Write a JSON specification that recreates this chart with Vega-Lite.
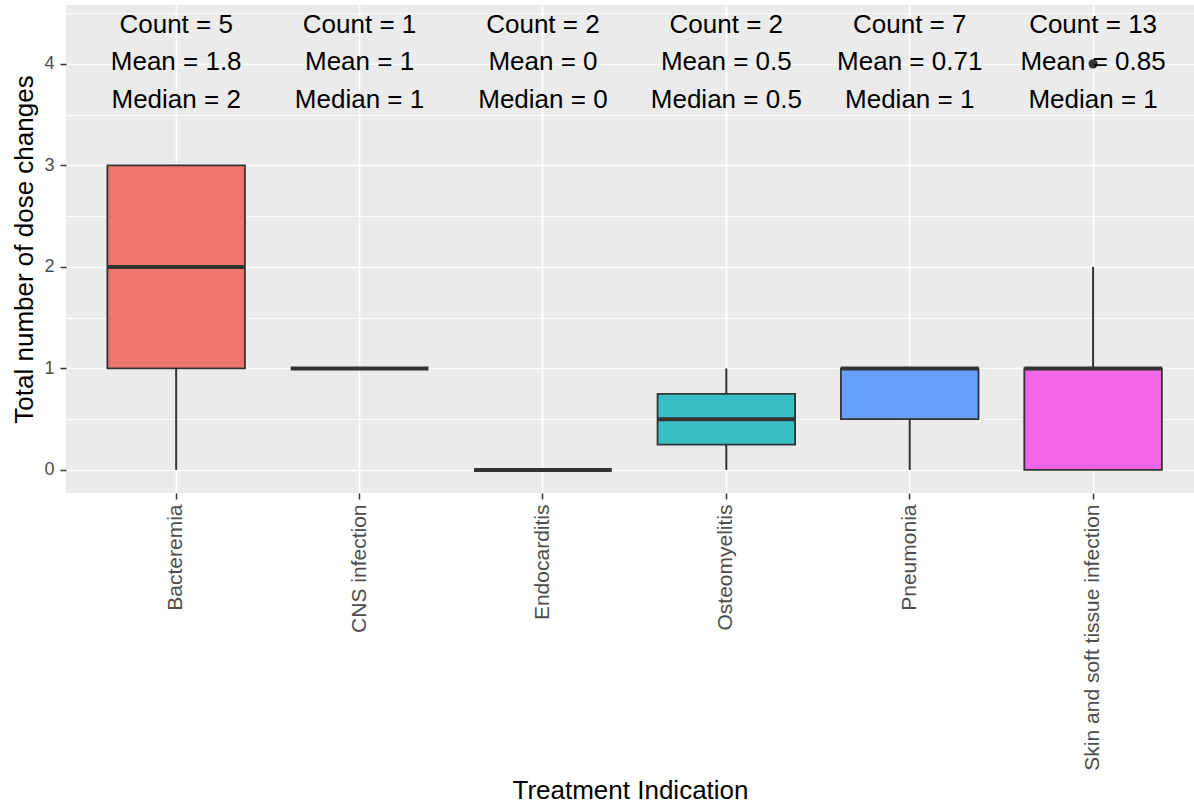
{
  "$schema": "https://vega.github.io/schema/vega-lite/v6.json",
  "width": 1128,
  "height": 488,
  "autosize": {"type": "none"},
  "padding": {"left": 66, "top": 5, "right": 0, "bottom": 310},
  "background": "white",
  "config": {
    "view": {"fill": "#EBEBEB", "stroke": null},
    "font": "Liberation Sans",
    "axis": {
      "domain": false,
      "grid": true,
      "gridColor": "white",
      "tickColor": "#333333",
      "tickWidth": 1.5,
      "tickSize": 6,
      "labelColor": "#4D4D4D",
      "labelFont": "Liberation Sans",
      "labelFontSize": 18,
      "labelPadding": 6,
      "labelLimit": 0,
      "titleFont": "Liberation Sans",
      "titleFontWeight": "normal",
      "titleColor": "black",
      "titleFontSize": 26
    },
    "axisLeft": {"labelFontSize": 18, "labelPadding": 6},
    "axisBottom": {"labelFontSize": 21, "labelPadding": 5}
  },
  "resolve": {"axis": {"y": "independent"}},
  "data": {
    "values": [
      {"indication": "Bacteremia", "lower": 0, "q1": 1, "median": 2, "q3": 3, "upper": 3, "count_text": "Count = 5", "mean_text": "Mean = 1.8", "median_text": "Median = 2"},
      {"indication": "CNS infection", "lower": 1, "q1": 1, "median": 1, "q3": 1, "upper": 1, "count_text": "Count = 1", "mean_text": "Mean = 1", "median_text": "Median = 1"},
      {"indication": "Endocarditis", "lower": 0, "q1": 0, "median": 0, "q3": 0, "upper": 0, "count_text": "Count = 2", "mean_text": "Mean = 0", "median_text": "Median = 0"},
      {"indication": "Osteomyelitis", "lower": 0, "q1": 0.25, "median": 0.5, "q3": 0.75, "upper": 1, "count_text": "Count = 2", "mean_text": "Mean = 0.5", "median_text": "Median = 0.5"},
      {"indication": "Pneumonia", "lower": 0, "q1": 0.5, "median": 1, "q3": 1, "upper": 1, "count_text": "Count = 7", "mean_text": "Mean = 0.71", "median_text": "Median = 1"},
      {"indication": "Skin and soft tissue infection", "lower": 0, "q1": 0, "median": 1, "q3": 1, "upper": 2, "count_text": "Count = 13", "mean_text": "Mean = 0.85", "median_text": "Median = 1"}
    ]
  },
  "encoding": {
    "x": {
      "field": "indication",
      "type": "nominal",
      "sort": null,
      "scale": {
        "domain": ["Bacteremia", "CNS infection", "Endocarditis", "Osteomyelitis", "Pneumonia", "Skin and soft tissue infection"],
        "paddingInner": 0.25,
        "paddingOuter": 0.2005,
        "align": 0.563
      },
      "axis": {
        "title": "Treatment Indication",
        "grid": true,
        "labelAngle": -90,
        "labelFontSize": 21,
        "labelPadding": 5,
        "gridWidth": 1.6,
        "bandPosition": 0.5,
        "titleY": 305,
        "titleBaseline": "alphabetic"
      }
    }
  },
  "layer": [
    {
      "mark": {"type": "rule", "color": "#333333", "strokeWidth": 2},
      "encoding": {
        "y": {
          "field": "q3",
          "type": "quantitative",
          "scale": {"domain": [-0.227, 4.58], "nice": false, "zero": false},
          "axis": {
            "orient": "right",
            "title": null,
            "grid": true,
            "gridWidth": 0.8,
            "values": [0.5, 1.5, 2.5, 3.5, 4.5],
            "labels": false,
            "ticks": false
          }
        },
        "y2": {"field": "upper"}
      }
    },
    {
      "mark": {"type": "rule", "color": "#333333", "strokeWidth": 2},
      "encoding": {
        "y": {
          "field": "lower",
          "type": "quantitative",
          "axis": {
            "orient": "left",
            "title": "Total number of dose changes",
            "grid": true,
            "gridWidth": 1.6,
            "values": [0, 1, 2, 3, 4],
            "format": "d",
            "labelFontSize": 18,
            "labelPadding": 6,
            "titleX": -42,
            "titleBaseline": "middle"
          }
        },
        "y2": {"field": "q1"}
      }
    },
    {
      "mark": {"type": "bar", "stroke": "#333333", "strokeWidth": 1.8},
      "encoding": {
        "y": {"field": "q1", "type": "quantitative", "axis": null},
        "y2": {"field": "q3"},
        "fill": {
          "field": "indication",
          "type": "nominal",
          "legend": null,
          "scale": {
            "domain": ["Bacteremia", "CNS infection", "Endocarditis", "Osteomyelitis", "Pneumonia", "Skin and soft tissue infection"],
            "range": ["#F0756C", "#B79F00", "#00BA38", "#38BEC3", "#66A0FF", "#F066E6"]
          }
        }
      }
    },
    {
      "mark": {"type": "bar", "fillOpacity": 0, "stroke": "#333333", "strokeWidth": 4},
      "encoding": {
        "y": {"field": "median", "type": "quantitative", "axis": null},
        "y2": {"field": "median"}
      }
    },
    {
      "data": {"values": [{"indication": "Skin and soft tissue infection", "value": 4}]},
      "mark": {"type": "circle", "color": "#333333", "opacity": 1, "size": 85},
      "encoding": {
        "y": {"field": "value", "type": "quantitative", "axis": null}
      }
    },
    {
      "mark": {"type": "text", "fontSize": 26, "color": "black", "align": "center", "baseline": "alphabetic"},
      "encoding": {
        "y": {"datum": 4.308, "type": "quantitative", "axis": null},
        "text": {"field": "count_text"}
      }
    },
    {
      "mark": {"type": "text", "fontSize": 26, "color": "black", "align": "center", "baseline": "alphabetic"},
      "encoding": {
        "y": {"datum": 3.938, "type": "quantitative", "axis": null},
        "text": {"field": "mean_text"}
      }
    },
    {
      "mark": {"type": "text", "fontSize": 26, "color": "black", "align": "center", "baseline": "alphabetic"},
      "encoding": {
        "y": {"datum": 3.564, "type": "quantitative", "axis": null},
        "text": {"field": "median_text"}
      }
    }
  ]
}
